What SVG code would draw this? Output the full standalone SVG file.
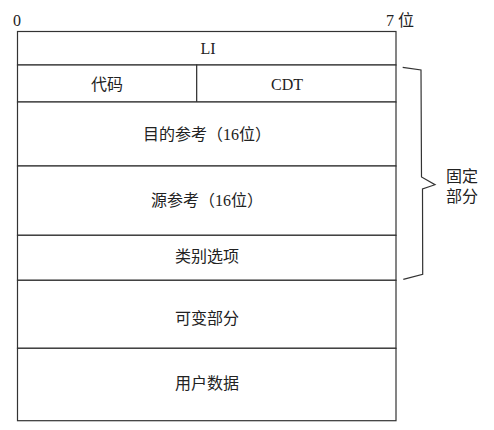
<svg xmlns="http://www.w3.org/2000/svg" width="494" height="430" viewBox="0 0 494 430">
<style>
.box{fill:#fff;stroke:#333;stroke-width:1.2}
.ln{stroke:#333;stroke-width:1.2;fill:none}
text{font-family:"Liberation Serif","Noto Sans CJK SC",serif;font-size:16px;fill:#222;text-anchor:middle;dominant-baseline:central}
</style>
<rect width="494" height="430" fill="#fff"/>
<text x="17" y="20">0</text>
<text x="400" y="20">7 位</text>
<g id="LI"><rect class="box" x="17.5" y="31.5" width="378.5" height="33.5"/><text x="208" y="48">LI</text></g>
<g id="code"><rect class="box" x="17.5" y="65" width="179.2" height="37"/><text x="107" y="84">代码</text></g>
<g id="CDT"><rect class="box" x="196.7" y="65" width="199.3" height="37"/><text x="287" y="84">CDT</text></g>
<g id="dst"><rect class="box" x="17.5" y="102" width="378.5" height="64"/><text x="207" y="134">目的参考（16位）</text></g>
<g id="src"><rect class="box" x="17.5" y="166" width="378.5" height="69.3"/><text x="207" y="200">源参考（16位）</text></g>
<g id="class"><rect class="box" x="17.5" y="235.3" width="378.5" height="45"/><text x="207" y="256">类别选项</text></g>
<g id="var"><rect class="box" x="17.5" y="280.3" width="378.5" height="68"/><text x="207" y="318">可变部分</text></g>
<g id="user"><rect class="box" x="17.5" y="348.3" width="378.5" height="72.4"/><text x="207" y="383">用户数据</text></g>
<g id="connectors">
<path class="ln" d="M402.7,67.3 L421,70 L421.5,177 L435,184.7 L422.5,189 L422.7,274.3 L403.3,279.3"/>
</g>
<g id="fixed"><text x="462" y="176">固定</text><text x="462" y="196">部分</text></g>
</svg>
